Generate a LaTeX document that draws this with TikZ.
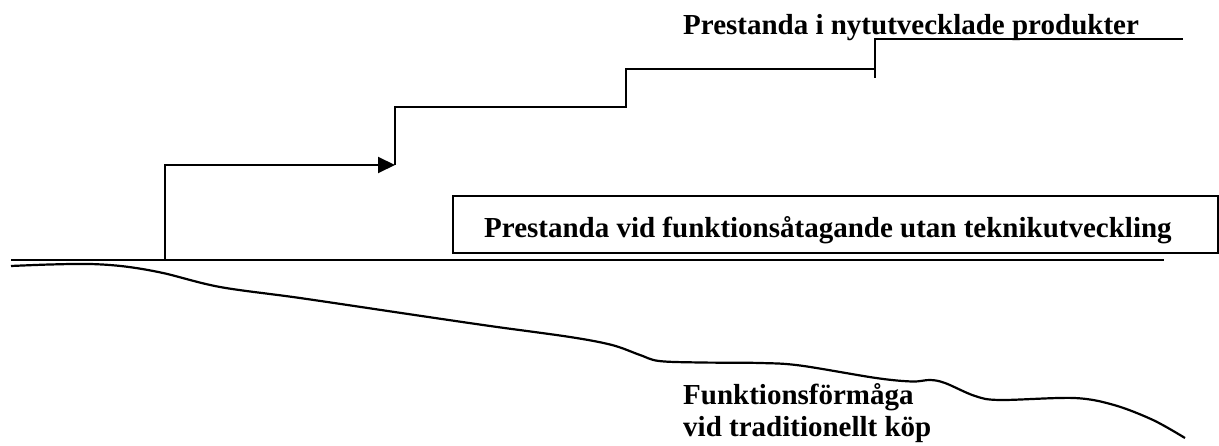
\documentclass[tikz,border=0pt]{standalone}
\usepackage{fontspec}
\setmainfont{Liberation Serif}
\usetikzlibrary{arrows.meta}
\begin{document}
\begin{tikzpicture}[x=1pt,y=-1pt,
  line/.style={line width=2pt},
  lbl/.style={inner sep=0pt,font=\fontsize{29}{32}\selectfont\bfseries,anchor=base west},
  tip/.style={-{Triangle[length=17pt,width=16pt]}}]
\useasboundingbox (0,0) rectangle (1219,446);
% base line
\coordinate (b0) at (11,260);
\coordinate (b1) at (1164,260);
\draw[line] (b0) -- (b1);
% box
\coordinate (r0) at (453,196);
\coordinate (r1) at (1218,253);
\draw[line] (r0) rectangle (r1);
\node[lbl] (boxtxt) at (484,238) {Prestanda vid funktionsåtagande utan teknikutveckling};
% staircase
\coordinate (s0) at (165,260);
\coordinate (s1) at (165,165);
\coordinate (s2) at (395,165);
\coordinate (s3) at (395,107);
\coordinate (s4) at (626,107);
\coordinate (s5) at (626,69);
\coordinate (s6) at (875,69);
\coordinate (s7) at (875,78);
\coordinate (s8) at (875,39);
\coordinate (s9) at (1183,39);
\draw[line,tip] (s0) -- (s1) -- (s2);
\draw[line] (s2) -- (s3) -- (s4) -- (s5) -- (s6);
\draw[line] (s7) -- (s8) -- (s9);
\node[lbl] (top) at (683,35) {Prestanda i nytutvecklade produkter};
% traditional curve
\draw[line width=2.2pt] plot[smooth,tension=0.55] coordinates {
 (11,266) (50,264.5) (90,264) (125,266.5) (163,273) (220,287) (300,298) (408,314)
 (490,326) (570,337) (612,345) (640,355) (659,361) (700,362.5) (760,363)
 (800,365.5) (876,378) (912,381.5) (930,380) (945,383) (975,396) (1000,400)
 (1074,398) (1114,405) (1153,420) (1185,438)};
\node[lbl,align=left] (trad) at (683,436) {Funktionsförmåga\\vid traditionellt köp};
\end{tikzpicture}
\end{document}
